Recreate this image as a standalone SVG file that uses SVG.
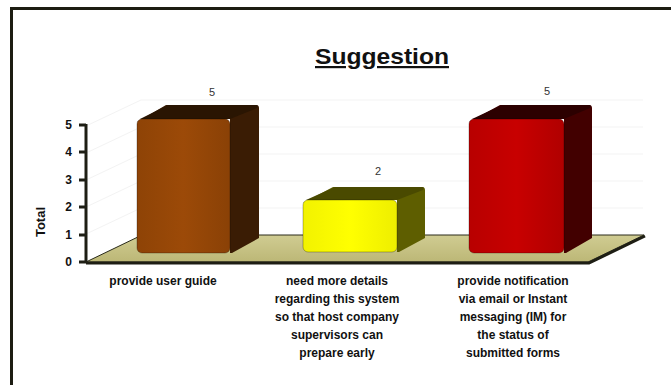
<svg xmlns="http://www.w3.org/2000/svg" width="671" height="385" viewBox="0 0 671 385">
  <style>
    .frame { fill: none; stroke: #1c1c12; stroke-width: 3; }
    .grid { stroke: #f3f3f3; stroke-width: 1; fill: none; }
    .axis { stroke: #1e1e14; stroke-width: 3; fill: none; }
    .tick { font-family: "Liberation Sans", Arial, sans-serif; font-size: 12px; font-weight: bold; fill: #111; text-anchor: end; }
    .val { font-family: "Liberation Sans", Arial, sans-serif; font-size: 11px; fill: #333; text-anchor: middle; }
    .cat { font-family: "Liberation Sans", Arial, sans-serif; font-size: 12px; font-weight: bold; fill: #111; text-anchor: middle; }
    .title { font-family: "Liberation Sans", Arial, sans-serif; font-size: 22px; font-weight: bold; fill: #111; text-anchor: middle; text-decoration: underline; }
    .edge { stroke: #000; stroke-opacity: 0.35; stroke-width: 0.8; }
  </style>
  <defs>
    <linearGradient id="floorFill" x1="0" y1="0" x2="0" y2="1">
      <stop offset="0" stop-color="#d0cc92"/>
      <stop offset="1" stop-color="#bcb776"/>
    </linearGradient>
    <linearGradient id="frontBrown" x1="0" y1="0" x2="1" y2="0">
      <stop offset="0" stop-color="#8e4306"/>
      <stop offset="0.5" stop-color="#9c4a08"/>
      <stop offset="1" stop-color="#8a4106"/>
    </linearGradient>
    <linearGradient id="frontYellow" x1="0" y1="0" x2="1" y2="0">
      <stop offset="0" stop-color="#f2f200"/>
      <stop offset="0.5" stop-color="#ffff00"/>
      <stop offset="1" stop-color="#eeee00"/>
    </linearGradient>
    <linearGradient id="frontRed" x1="0" y1="0" x2="1" y2="0">
      <stop offset="0" stop-color="#b80000"/>
      <stop offset="0.5" stop-color="#c80000"/>
      <stop offset="1" stop-color="#b00000"/>
    </linearGradient>
  </defs>

  <!-- outer frame (runs off the right and bottom edges) -->
  <path class="frame" d="M11.5,390 V8.5 H680"/>

  <!-- title -->
  <text class="title" x="382" y="64" textLength="134" lengthAdjust="spacingAndGlyphs">Suggestion</text>

  <!-- back wall and side wall grid -->
  <g id="walls">
    <path class="grid" d="M141,208 H643 M141,181 H643 M141,154 H643 M141,127 H643 M141,100 H643"/>
    <path class="grid" d="M86,234 L141,208 M86,207 L141,181 M86,180 L141,154 M86,153 L141,127 M86,126 L141,100"/>
  </g>

  <!-- floor -->
  <g id="floor">
    <path d="M86,262 L588,262 L644,235 L142,235 Z" fill="url(#floorFill)" stroke="#2a2a1a" stroke-width="1"/>
    <path d="M86,263 L589,263 L645,236" fill="none" stroke="#1e1e14" stroke-width="3"/>
  </g>

  <!-- value axis -->
  <g id="axis">
    <path class="axis" d="M86,124 V263"/>
    <path class="axis" d="M79,262 H86 M79,235 H86 M79,207 H86 M79,180 H86 M79,152 H86 M79,125 H86"/>
    <text class="tick" x="72" y="266">0</text>
    <text class="tick" x="72" y="239">1</text>
    <text class="tick" x="72" y="211">2</text>
    <text class="tick" x="72" y="184">3</text>
    <text class="tick" x="72" y="156">4</text>
    <text class="tick" x="72" y="129">5</text>
    <text class="tick" x="0" y="0" transform="translate(45,222) rotate(-90)" style="text-anchor:middle;font-size:13px">Total</text>
  </g>

  <!-- bar: provide user guide -->
  <g id="bar-user-guide">
    <path d="M137,122 L166,105 H256 Q259,105 259,108 V238 L232,253 H230 V119 Z" fill="#3a1c04"/>
    <path d="M140,119 L168,105 H256 Q259,105 257,108 L230,119 Z" fill="#2a1502"/>
    <rect x="137" y="119" width="93" height="134" rx="5" fill="url(#frontBrown)" class="edge"/>
    <text class="val" x="212" y="96">5</text>
  </g>

  <!-- bar: need more details -->
  <g id="bar-more-details">
    <path d="M303,203 L333,187 H422 Q425,187 425,190 V238 L399,252 H397 V200 Z" fill="#5e5e00"/>
    <path d="M306,200 L335,187 H422 Q425,187 423,190 L397,200 Z" fill="#4a4a00"/>
    <rect x="303" y="200" width="94" height="52" rx="5" fill="url(#frontYellow)" class="edge"/>
    <text class="val" x="378" y="175">2</text>
  </g>

  <!-- bar: provide notification -->
  <g id="bar-notification">
    <path d="M469,122 L500,105 H589 Q592,105 592,108 V238 L566,253 H564 V119 Z" fill="#420000"/>
    <path d="M472,119 L502,105 H589 Q592,105 590,108 L564,119 Z" fill="#2c0000"/>
    <rect x="469" y="119" width="95" height="134" rx="5" fill="url(#frontRed)" class="edge"/>
    <text class="val" x="547" y="95">5</text>
  </g>

  <!-- category labels -->
  <g id="labels">
    <text class="cat" x="163" y="285">provide user guide</text>
    <text class="cat" x="337" y="285">need more details</text>
    <text class="cat" x="337" y="303">regarding this system</text>
    <text class="cat" x="337" y="321">so that host company</text>
    <text class="cat" x="337" y="339">supervisors can</text>
    <text class="cat" x="337" y="357">prepare early</text>
    <text class="cat" x="513" y="285">provide notification</text>
    <text class="cat" x="513" y="303">via email or Instant</text>
    <text class="cat" x="513" y="321">messaging (IM) for</text>
    <text class="cat" x="513" y="339">the status of</text>
    <text class="cat" x="513" y="357">submitted forms</text>
  </g>
</svg>
